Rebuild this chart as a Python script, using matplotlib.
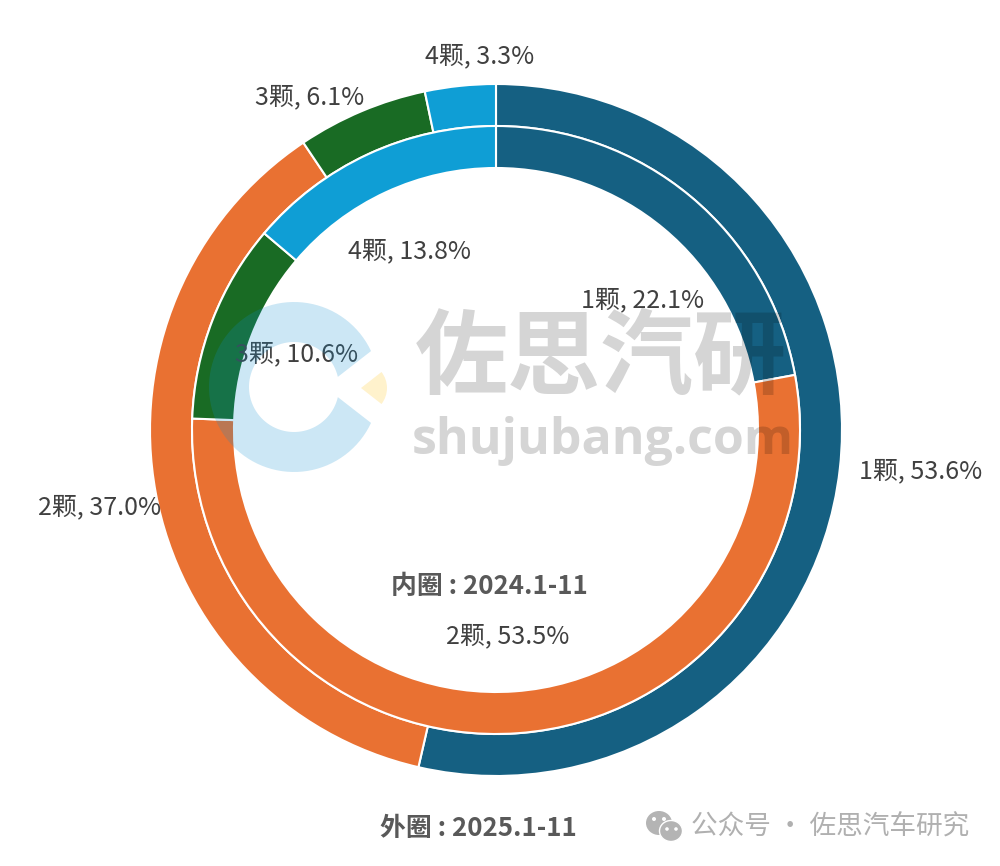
import numpy as np
import matplotlib
matplotlib.use('Agg')
import matplotlib.pyplot as plt
from matplotlib.patches import Wedge, Polygon, Ellipse

plt.rcParams['font.family'] = ['Noto Sans CJK SC', 'DejaVu Sans']

# data, clockwise from 12 o'clock
categories = ['1颗', '2颗', '3颗', '4颗']
outer_2025 = [53.6, 37.0, 6.1, 3.3]
inner_2024 = [22.1, 53.5, 10.6, 13.8]
colors = ['#156082', '#E97132', '#196B24', '#0F9ED5']

# label anchor positions in image pixels
outer_label_pos = [(921, 471), (100, 507), (310, 97), (480, 56)]
inner_label_pos = [(643, 300), (508, 636), (297, 354), (410, 251)]

W, H = 1000, 866


def py(y):
    # image pixels count from the top
    return H - y


fig = plt.figure(figsize=(10, 8.66), dpi=100)
ax = fig.add_axes([0, 0, 1, 1])

cx, cy = 496, py(430)
# outer ring
ax.pie(outer_2025, colors=colors, startangle=90, counterclock=False, center=(cx, cy), radius=346,
       wedgeprops=dict(width=42, edgecolor='white', linewidth=1.5))
# inner ring
ax.pie(inner_2024, colors=colors, startangle=90, counterclock=False, center=(cx, cy), radius=304,
       wedgeprops=dict(width=42, edgecolor='white', linewidth=1.5))
ax.set_xlim(0, W)
ax.set_ylim(0, H)
ax.set_aspect('equal')
ax.axis('off')

# labels
for cat, val, pos in zip(categories, outer_2025, outer_label_pos):
    ax.text(pos[0], py(pos[1]), f'{cat}, {val:.1f}%', fontsize=18, color='#404040', ha='center', va='center', zorder=5)
for cat, val, pos in zip(categories, inner_2024, inner_label_pos):
    ax.text(pos[0], py(pos[1]), f'{cat}, {val:.1f}%', fontsize=18, color='#404040', ha='center', va='center', zorder=5)

ax.text(489, py(586), '内圈 : 2024.1-11', fontsize=18.6, fontweight='bold', color='#595959', ha='center', va='center')
ax.text(478, py(829), '外圈 : 2025.1-11', fontsize=18.6, fontweight='bold', color='#595959', ha='center', va='center')

# watermark logo
lx, ly = 294, py(387)
a_out = np.radians(np.linspace(25, 335, 90))
a_in = np.radians(np.linspace(347, 13, 90))
pts = np.vstack([np.c_[lx + 85 * np.cos(a_out), ly + 85 * np.sin(a_out)],
                 np.c_[lx + 45 * np.cos(a_in), ly + 45 * np.sin(a_in)]])
ax.add_patch(Polygon(pts, closed=True, facecolor='#0F8FD0', alpha=0.21, edgecolor='none', zorder=6))
ax.add_patch(Wedge((361, py(388)), 26, -38, 38, facecolor='#FFF2CC', edgecolor='none', zorder=6))

# watermark text
ax.text(601, py(360), '佐思汽研', fontsize=67, fontweight='bold', color='black', alpha=0.165,
        ha='center', va='center', zorder=6)
ax.text(603, py(441), 'shujubang.com', fontsize=36, fontweight='bold',
        family='Open Sans', color='black', alpha=0.165, ha='center', va='center', zorder=6)

# wechat footer
ax.add_patch(Ellipse((659, py(823)), 26, 24, facecolor='#b4b4b4', edgecolor='none', zorder=6))
ax.add_patch(Ellipse((671, py(831)), 23, 21, facecolor='#b4b4b4', edgecolor='white', linewidth=1, zorder=7))
for ex, ey, r in [(654, 819, 2), (664, 819, 2), (667, 829, 1.8), (676, 829, 1.8)]:
    ax.add_patch(Ellipse((ex, py(ey)), r * 2, r * 2, facecolor='white', edgecolor='none', zorder=8))
ax.text(830, py(827), '公众号 · 佐思汽车研究', fontsize=19.2, color='#b0b0b0', ha='center', va='center', zorder=6)

fig.savefig('out.png', dpi=100, facecolor='white')
